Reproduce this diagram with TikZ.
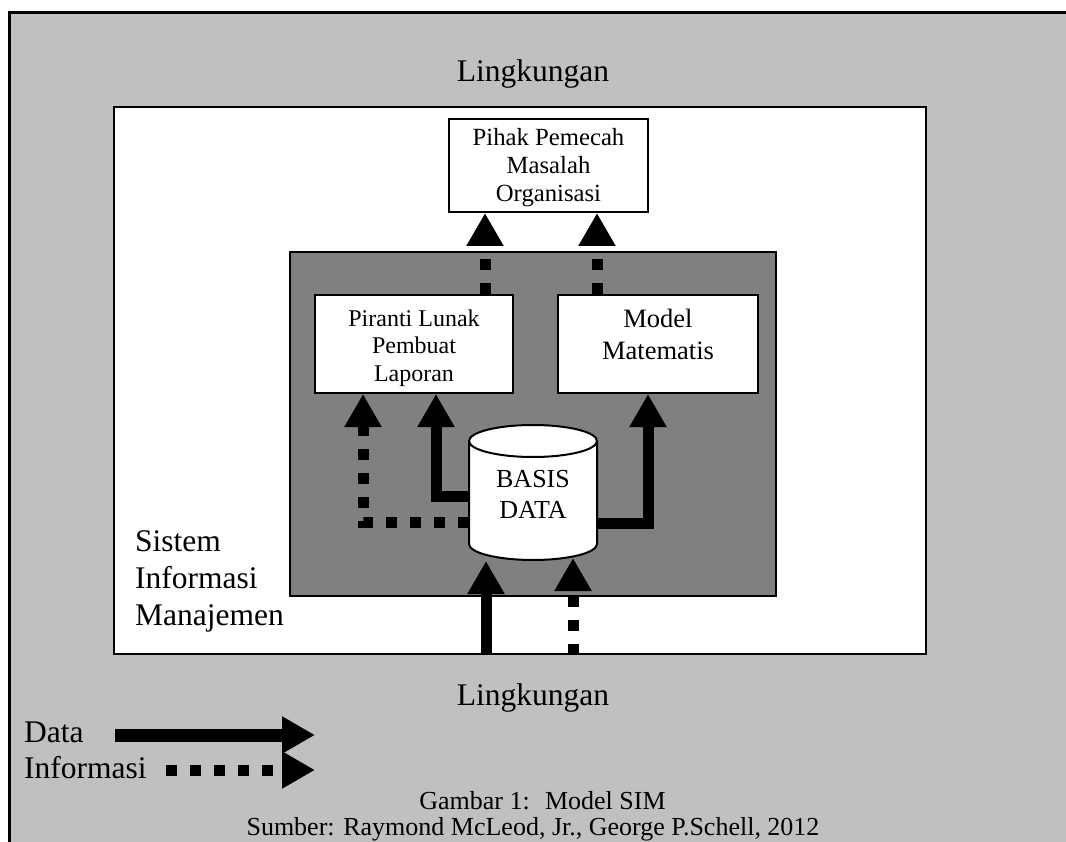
\documentclass[tikz,border=0pt]{standalone}
\usepackage{fontspec}
\setmainfont{Liberation Serif}
\usetikzlibrary{arrows.meta}
\definecolor{lgray}{HTML}{C0C0C0}
\definecolor{dgray}{HTML}{808080}
\begin{document}
\begin{tikzpicture}[x=1pt,y=-1pt,
  boxs/.style={draw=black,line width=2pt,fill=white,inner sep=0pt},
  datarrow/.style={line width=11pt,-{Triangle[width=35pt,length=33pt]}},
  infoarrow/.style={line width=11pt,dash pattern=on 11pt off 13pt,-{Triangle[width=35pt,length=33pt]}},
  txt/.style={inner sep=0pt,align=center}]
\useasboundingbox (0,0) rectangle (1066,842);
\fill[white] (0,0) rectangle (1066,842);
% environment
\fill[lgray] (9,13) rectangle (1070,846);
\draw[line width=3pt] (9,846) -- (9,13) -- (1070,13);
\node[txt,anchor=base,font=\fontsize{31.5}{37}\selectfont] (ltop) at (533,82) {Lingkungan};
\node[txt,anchor=base,font=\fontsize{31.5}{37}\selectfont] (lbot) at (533,705) {Lingkungan};
% SIM box
\node[boxs,minimum width=812pt,minimum height=547pt] (sim) at (520,380.5) {};
\node[txt,align=left,anchor=north west,font=\fontsize{31.5}{37}\selectfont] (simt) at (135,530.5) {Sistem\\Informasi\\Manajemen};
% dark box
\node[boxs,fill=dgray,minimum width=486pt,minimum height=344pt] (dark) at (533,424) {};
% top box
\node[boxs,minimum width=199pt,minimum height=93pt] (top) at (548.5,165.5) {};
\node[txt,anchor=north,font=\fontsize{24.7}{28}\selectfont] (topt) at (548.5,128) {Pihak Pemecah\\Masalah\\Organisasi};
% piranti box
\node[boxs,minimum width=198pt,minimum height=98pt] (piranti) at (414,344) {};
\node[txt,anchor=north,font=\fontsize{24}{27.5}\selectfont] (pirantit) at (414,309.6) {Piranti Lunak\\Pembuat\\Laporan};
% model box
\node[boxs,minimum width=200pt,minimum height=98pt] (model) at (658,344) {};
\node[txt,anchor=north,font=\fontsize{26.5}{32}\selectfont] (modelt) at (658,309) {Model\\Matematis};
% database cylinder
\filldraw[fill=white,line width=2pt] (469,441) -- (469,544) arc[start angle=180,end angle=0,x radius=64,y radius=16] -- (597,441);
\filldraw[fill=white,line width=2pt] (533,441) ellipse[x radius=64,y radius=16];
\node[txt,anchor=north,font=\fontsize{26}{31}\selectfont] (db) at (533,470) {BASIS\\DATA};
\coordinate (dbl1) at (469,496);
\coordinate (dbl2) at (469,522);
\coordinate (dbr) at (597,523);
\coordinate (dbb1) at (486,561);
\coordinate (dbb2) at (573,558);
% x guides
\coordinate (xa) at (485,0);
\coordinate (xb) at (597,0);
\coordinate (xc) at (436,0);
\coordinate (xd) at (363,0);
\coordinate (xe) at (648,0);
\coordinate (xf) at (486,0);
\coordinate (xg) at (573,0);
% connectors
\draw[infoarrow] (piranti.north -| xa) -- (top.south -| xa);
\draw[infoarrow] (model.north -| xb) -- (top.south -| xb);
\draw[datarrow] (dbl1) -- (dbl1 -| xc) -- (piranti.south -| xc);
\draw[infoarrow] (dbl2) -- (dbl2 -| xd) -- (piranti.south -| xd);
\draw[datarrow] (dbr) -- (dbr -| xe) -- (model.south -| xe);
\draw[datarrow] (sim.south -| xf) -- (dbb1);
\draw[infoarrow] (sim.south -| xg) -- (dbb2);
% legend
\node[txt,anchor=base west,font=\fontsize{31.5}{37}\selectfont] (ldata) at (24,742) {Data};
\node[txt,anchor=base west,font=\fontsize{31.5}{37}\selectfont] (linfo) at (24,778) {Informasi};
\coordinate (ld1) at (115,735);
\coordinate (ld2) at (315,735);
\coordinate (li1) at (166,770);
\coordinate (li2) at (315,770);
\draw[datarrow,line width=13pt] (ld1) -- (ld2);
\draw[infoarrow] (li1) -- (li2);
% caption
\node[txt,anchor=base,font=\fontsize{26}{30}\selectfont] (cap1) at (542.5,809) {Gambar 1:~ Model SIM};
\node[txt,anchor=base,font=\fontsize{26}{30}\selectfont] (cap2) at (533,835) {Sumber: Raymond McLeod, Jr., George P.Schell, 2012};
\end{tikzpicture}
\end{document}
